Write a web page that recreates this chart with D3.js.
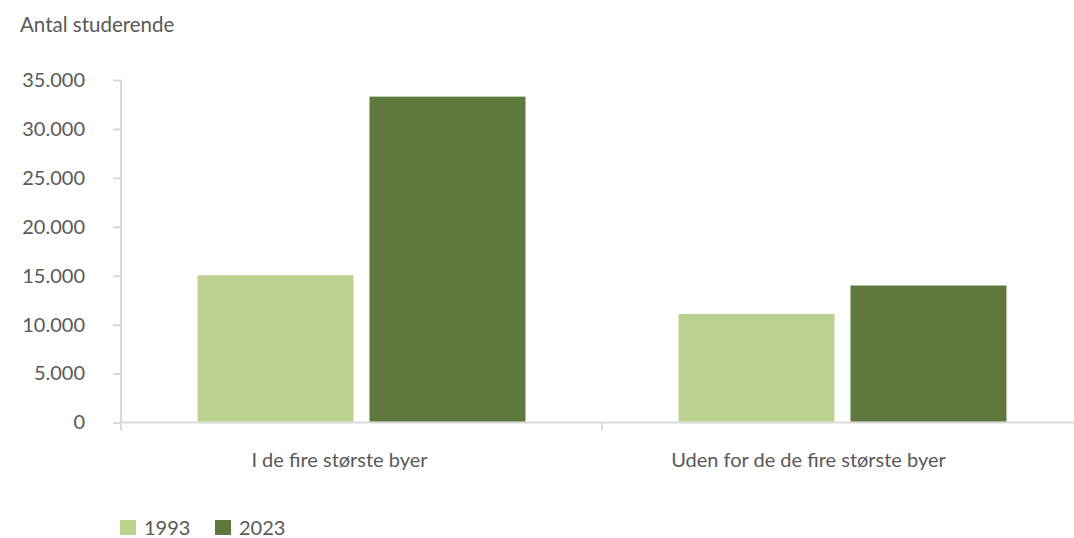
<!DOCTYPE html>
<html>
<head>
<meta charset="utf-8">
<script src="https://cdn.jsdelivr.net/npm/d3@7"></script>
<style>
  body { margin: 0; background: #fff; }
  text { font-family: Lato, "Open Sans", sans-serif; fill: #595959; }
</style>
</head>
<body>
<div class="visHolder"></div>
<script>
var categories = ["I de fire største byer", "Uden for de de fire største byer"];
var seriesNames = ["1993", "2023"];
var values1993 = [15050, 11100];
var values2023 = [33300, 14000];
var yTicks = [0, 5000, 10000, 15000, 20000, 25000, 30000, 35000];
var colors = ["#bcd18f", "#5f783e"];

var width = 1074,
    height = 538,
    fontSize = "20px";

var svg = d3
    .select(".visHolder")
    .append("svg")
    .attr("width", width)
    .attr("height", height);

var x0 = d3.scaleBand().domain(categories).range([121, 1083]);
var x1 = d3.scaleBand().domain(seriesNames).range([0, x0.bandwidth()]).paddingInner(0.093).paddingOuter(0.445);
var y = d3.scaleLinear().domain([0, 35000]).range([422.5, 80]);

var fmt = function (d) {
    return d3.format(",")(d).replace(/,/g, ".");
};

// y axis
var yAxis = svg
    .append("g")
    .attr("transform", "translate(121,0)")
    .call(d3.axisLeft(y).tickValues(yTicks).tickFormat(fmt).tickSize(8).tickPadding(28));
yAxis.selectAll("path, line").attr("stroke", "#d9d9d9").attr("stroke-width", 2);
yAxis.select(".domain").attr("d", "M0," + y(35000) + "V" + y(0));
yAxis.selectAll("text").style("font-size", fontSize).attr("fill", "#595959").attr("font-family", "Lato");

// x axis
var xAxis = svg.append("g").attr("transform", "translate(0," + y(0) + ")");
xAxis.append("line").attr("x1", 121).attr("x2", 1074).attr("stroke", "#d9d9d9").attr("stroke-width", 2);
xAxis
    .selectAll("line.tick")
    .data([x0.range()[0], x0(categories[1])])
    .enter()
    .append("line")
    .attr("class", "tick")
    .attr("x1", function (d) { return d; })
    .attr("x2", function (d) { return d; })
    .attr("y1", 0)
    .attr("y2", 8)
    .attr("stroke", "#d9d9d9")
    .attr("stroke-width", 2);
var labelShift = [-22, -34];
xAxis
    .selectAll("text")
    .data(categories)
    .enter()
    .append("text")
    .attr("x", function (d, i) { return x0(d) + x0.bandwidth() / 2 + labelShift[i]; })
    .attr("y", 44.5)
    .attr("text-anchor", "middle")
    .style("font-size", fontSize)
    .text(function (d) { return d; });

// bars
var rows = categories.map(function (c, i) {
    return { cat: c, vals: [values1993[i], values2023[i]] };
});
var groups = svg
    .selectAll("g.group")
    .data(rows)
    .enter()
    .append("g")
    .attr("class", "group")
    .attr("transform", function (d) { return "translate(" + x0(d.cat) + ",0)"; });
groups
    .selectAll("rect")
    .data(function (d) {
        return d.vals.map(function (v, j) { return { s: seriesNames[j], v: v, j: j }; });
    })
    .enter()
    .append("rect")
    .attr("x", function (d) { return x1(d.s); })
    .attr("y", function (d) { return y(d.v); })
    .attr("width", x1.bandwidth())
    .attr("height", function (d) { return y(0) - y(d.v) - 1; })
    .style("fill", function (d) { return colors[d.j]; });

// title
svg
    .append("text")
    .attr("x", 20)
    .attr("y", 32)
    .style("font-size", "20.5px")
    .text("Antal studerende");

// legend
var legendX = [120, 215];
var legend = svg
    .selectAll("g.legend")
    .data(seriesNames)
    .enter()
    .append("g")
    .attr("class", "legend")
    .attr("transform", function (d, i) { return "translate(" + legendX[i] + ",520)"; });
legend
    .append("rect")
    .attr("width", 16)
    .attr("height", 15)
    .style("fill", function (d, i) { return colors[i]; });
legend
    .append("text")
    .attr("x", 24)
    .attr("y", 15)
    .style("font-size", fontSize)
    .text(function (d) { return d; });
</script>
</body>
</html>
